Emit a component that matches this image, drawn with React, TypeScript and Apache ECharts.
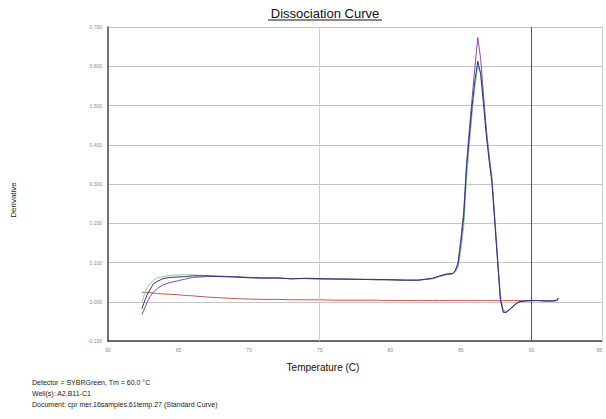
import React, { useEffect, useRef } from "react";
import * as echarts from "echarts";

const temps = [62.4, 62.6, 62.8, 63.0, 63.2, 63.5, 63.9, 64.4, 64.9, 65.5, 66.0, 67.0, 68.0, 69.0, 70.0, 71.0, 72.0, 73.0, 74.0, 75.0, 76.0, 77.0, 78.0, 79.0, 80.0, 81.0, 82.0, 83.0, 83.5, 84.0, 84.4, 84.6, 84.8, 85.0, 85.2, 85.4, 85.6, 85.8, 86.0, 86.2, 86.4, 86.6, 86.8, 87.0, 87.2, 87.4, 87.6, 87.8, 88.0, 88.2, 88.5, 88.8, 89.1, 89.5, 90.0, 90.5, 91.0, 91.5, 91.8, 91.9];

const blueValues = [-0.018, 0.002, 0.020, 0.032, 0.045, 0.052, 0.059, 0.062, 0.063, 0.064, 0.066, 0.066, 0.064, 0.063, 0.061, 0.060, 0.061, 0.058, 0.060, 0.059, 0.058, 0.058, 0.057, 0.057, 0.056, 0.055, 0.055, 0.060, 0.066, 0.071, 0.072, 0.078, 0.095, 0.150, 0.215, 0.340, 0.420, 0.500, 0.565, 0.613, 0.580, 0.505, 0.425, 0.360, 0.305, 0.205, 0.105, 0.005, -0.027, -0.027, -0.018, -0.008, 0.000, 0.002, 0.003, 0.003, 0.002, 0.002, 0.003, 0.010];

const purpleValues = [-0.033, -0.016, 0.001, 0.014, 0.024, 0.034, 0.043, 0.049, 0.053, 0.058, 0.062, 0.064, 0.065, 0.064, 0.062, 0.061, 0.060, 0.059, 0.059, 0.058, 0.058, 0.057, 0.057, 0.056, 0.056, 0.055, 0.055, 0.059, 0.065, 0.070, 0.071, 0.080, 0.100, 0.160, 0.230, 0.350, 0.440, 0.520, 0.600, 0.673, 0.620, 0.530, 0.440, 0.370, 0.310, 0.210, 0.105, 0.008, -0.025, -0.028, -0.019, -0.009, -0.001, 0.002, 0.003, 0.003, 0.002, 0.002, 0.003, 0.009];

const greenValues = [-0.003, 0.022, 0.037, 0.047, 0.054, 0.061, 0.064, 0.067, 0.068, 0.069, 0.068, 0.067, 0.065, 0.063, 0.062, 0.061, 0.060, 0.059, 0.059, 0.058, 0.058, 0.057, 0.057, 0.056, 0.056, 0.055, 0.055, 0.059, 0.064, 0.069, 0.071, 0.075, 0.088, 0.130, 0.190, 0.310, 0.400, 0.480, 0.550, 0.600, 0.585, 0.515, 0.440, 0.375, 0.320, 0.220, 0.120, 0.020, -0.020, -0.025, -0.018, -0.008, 0.000, 0.002, 0.003, 0.003, 0.002, 0.002, 0.003, 0.008];

const redValues = [0.024, 0.024, 0.023, 0.023, 0.022, 0.021, 0.020, 0.019, 0.018, 0.016, 0.015, 0.012, 0.010, 0.008, 0.007, 0.006, 0.006, 0.005, 0.005, 0.005, 0.004, 0.004, 0.004, 0.004, 0.003, 0.003, 0.003, 0.003, 0.003, 0.003, 0.003, 0.003, 0.003, 0.003, 0.003, 0.003, 0.003, 0.003, 0.003, 0.003, 0.003, 0.003, 0.003, 0.003, 0.003, 0.003, 0.003, 0.003, 0.003, 0.003, 0.003, 0.003, 0.003, 0.003, 0.003, 0.003, 0.003, 0.003, 0.004, 0.005];

const seriesNames = ["Red", "Green", "Purple", "Blue"];
const seriesColors = ["#c0584a", "#86d08e", "#8a4f9e", "#2d3580"];
const seriesValues = [redValues, greenValues, purpleValues, blueValues];

const footerLines = [
  "Detector = SYBRGreen, Tm = 60.0 °C",
  "Well(s): A2,B11-C1",
  "Document: cpr mer.16samples.61temp.27 (Standard Curve)",
];

const FONT = "'Liberation Sans', Arial, sans-serif";

export default function App() {
  const ref = useRef<HTMLDivElement>(null);
  useEffect(() => {
    if (!ref.current) return;
    document.body.style.margin = "0";
    const chart = echarts.init(ref.current, null, { renderer: "svg" });
    const series: any[] = seriesNames.map((name, k) => ({
      name,
      type: "line",
      showSymbol: false,
      symbol: "none",
      smooth: false,
      lineStyle: { width: 1, color: seriesColors[k] },
      itemStyle: { color: seriesColors[k] },
      data: temps.map((t, i) => [t, seriesValues[k][i]]),
      z: 3 + k,
    }));
    series[0].markLine = {
      silent: true,
      symbol: "none",
      label: { show: false },
      data: [
        { xAxis: 75, lineStyle: { color: "#cfcfcf", width: 1, type: "solid" } },
        { xAxis: 90, lineStyle: { color: "#555", width: 1, type: "solid" } },
        { xAxis: 95, lineStyle: { color: "#cfcfcf", width: 1, type: "solid" } },
      ],
    };
    chart.setOption({
      animation: false,
      backgroundColor: "#fff",
      grid: { left: 108, right: 4, top: 27, bottom: 78, containLabel: false },
      xAxis: {
        type: "value",
        min: 60,
        max: 95,
        interval: 5,
        axisLine: { onZero: false, lineStyle: { color: "#444", width: 1.5 } },
        axisTick: { show: false },
        splitLine: { show: false },
        axisLabel: { fontSize: 5, color: "#888", margin: 6, fontFamily: FONT, alignMaxLabel: "right" },
      },
      yAxis: {
        type: "value",
        min: -0.1,
        max: 0.7,
        interval: 0.1,
        axisLine: { show: true, onZero: false, lineStyle: { color: "#444", width: 1.5 } },
        axisTick: { show: false },
        splitLine: { show: true, lineStyle: { color: "#c4c4c4", width: 1 } },
        axisLabel: {
          fontSize: 5,
          color: "#888",
          margin: 6,
          fontFamily: FONT,
          formatter: (v: number) => v.toFixed(3),
        },
      },
      series,
      graphic: [
        {
          type: "text",
          x: 325,
          y: 13,
          style: {
            text: "Dissociation Curve",
            fontSize: 13,
            fontFamily: FONT,
            fill: "#111",
            align: "center",
            verticalAlign: "middle",
          },
        },
        {
          type: "line",
          shape: { x1: 268, y1: 20, x2: 382, y2: 20 },
          style: { stroke: "#111", lineWidth: 1 },
        },
        {
          type: "text",
          x: 323,
          y: 367,
          style: {
            text: "Temperature (C)",
            fontSize: 10,
            fontFamily: FONT,
            fill: "#111",
            align: "center",
            verticalAlign: "middle",
          },
        },
        {
          type: "text",
          x: 13,
          y: 200,
          rotation: Math.PI / 2,
          style: {
            text: "Derivative",
            fontSize: 8,
            fontFamily: FONT,
            fill: "#222",
            align: "center",
            verticalAlign: "middle",
          },
        },
        ...footerLines.map((line, i) => ({
          type: "text",
          x: 32,
          y: 382 + i * 11,
          style: {
            text: line,
            fontSize: 7,
            fontFamily: FONT,
            fill: "#222",
            align: "left",
            verticalAlign: "middle",
          },
        })),
      ],
    });
    return () => chart.dispose();
  }, []);
  return (
    <div
      ref={ref}
      style={{ position: "absolute", left: 0, top: 0, width: 606, height: 419 }}
    />
  );
}
